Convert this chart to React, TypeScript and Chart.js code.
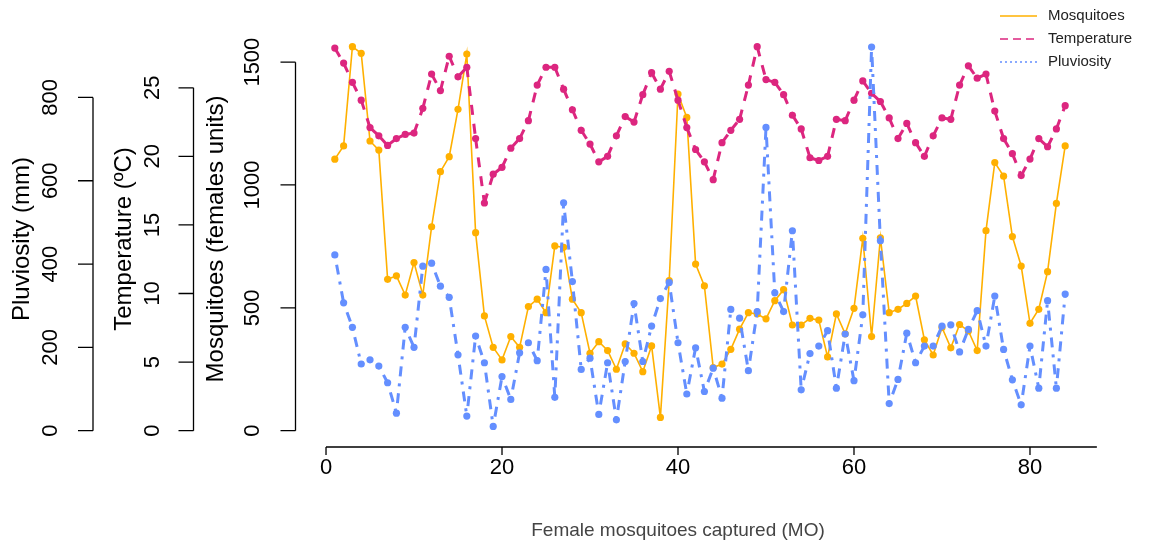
import React, { useEffect, useRef } from "react";
import { Chart, registerables } from "chart.js";

Chart.register(...registerables);

const captureIndex = [
  1, 2, 3, 4, 5, 6, 7, 8, 9, 10, 11, 12, 13, 14, 15, 16, 17, 18, 19, 20,
  21, 22, 23, 24, 25, 26, 27, 28, 29, 30, 31, 32, 33, 34, 35, 36, 37, 38, 39, 40,
  41, 42, 43, 44, 45, 46, 47, 48, 49, 50, 51, 52, 53, 54, 55, 56, 57, 58, 59, 60,
  61, 62, 63, 64, 65, 66, 67, 68, 69, 70, 71, 72, 73, 74, 75, 76, 77, 78, 79, 80,
  81, 82, 83, 84,
];

const mosquitoes = [
  1105, 1159, 1563, 1536, 1179, 1142, 616, 630, 552, 684,
  552, 830, 1054, 1115, 1308, 1533, 806, 467, 339, 288,
  383, 339, 505, 535, 480, 752, 746, 535, 480, 315,
  362, 326, 250, 353, 315, 240, 345, 54, 611, 1370,
  1275, 678, 589, 257, 271, 331, 413, 480, 475, 455,
  529, 574, 430, 430, 457, 450, 300, 475, 394, 498,
  783, 383, 785, 480, 494, 518, 548, 370, 308, 420,
  337, 432, 406, 326, 814, 1091, 1036, 790, 670, 437,
  494, 647, 925, 1159,
];

const temperature = [
  27.9, 26.8, 25.4, 24.1, 22.1, 21.5, 20.8, 21.3, 21.6, 21.7,
  23.5, 26.0, 24.8, 27.3, 25.8, 26.5, 21.3, 16.6, 18.7, 19.2,
  20.6, 21.3, 22.6, 25.2, 26.5, 26.5, 24.9, 23.4, 21.9, 20.9,
  19.6, 20.0, 21.5, 22.9, 22.5, 24.5, 26.1, 24.9, 26.2, 24.1,
  22.1, 20.5, 19.6, 18.3, 21.0, 21.9, 22.7, 25.2, 28.0, 25.6,
  25.4, 24.5, 23.0, 22.0, 19.9, 19.7, 20.0, 22.7, 22.6, 24.1,
  25.5, 24.6, 24.0, 22.8, 21.3, 22.4, 21.0, 20.0, 21.5, 22.8,
  22.7, 25.2, 26.6, 25.7, 26.0, 23.3, 21.3, 20.2, 18.6, 19.8,
  21.3, 20.7, 22.0, 23.7,
];

const pluviosity = [
  422, 307, 248, 160, 170, 155, 115, 42, 248, 200,
  395, 402, 347, 320, 182, 35, 227, 163, 10, 130,
  75, 187, 211, 168, 387, 80, 547, 358, 147, 174,
  39, 163, 26, 166, 305, 166, 251, 317, 356, 211,
  88, 199, 94, 150, 78, 291, 270, 144, 286, 728,
  331, 286, 480, 98, 185, 203, 240, 102, 232, 120,
  278, 921, 456, 65, 123, 234, 163, 203, 203, 251,
  254, 189, 243, 288, 203, 323, 195, 122, 62, 203,
  102, 312, 102, 328,
];

const xTicks = [0, 20, 40, 60, 80];
const mosqTicks = [0, 500, 1000, 1500];
const tempTicks = [0, 5, 10, 15, 20, 25];
const pluvTicks = [0, 200, 400, 600, 800];

const seriesNames = ["Mosquitoes", "Temperature", "Pluviosity"];
const xTitle = "Female mosquitoes captured (MO)";
const mosqTitle = "Mosquitoes (females units)";
const tempTitle = "Temperature (ºC)";
const pluvTitle = "Pluviosity (mm)";

const ORANGE = "#FFB000";
const MAGENTA = "#DC267F";
const BLUE = "#648FFF";
const FONT = '"Liberation Sans", Arial, Helvetica, sans-serif';

function drawYAxis(ctx: CanvasRenderingContext2D, scale: any, ticks: number[], axisX: number, labelX: number, titleX: number, title: string) {
  const y0 = scale.getPixelForValue(ticks[0]);
  const y1 = scale.getPixelForValue(ticks[ticks.length - 1]);
  ctx.beginPath();
  ctx.moveTo(axisX, y0);
  ctx.lineTo(axisX, y1);
  for (const t of ticks) {
    const y = scale.getPixelForValue(t);
    ctx.moveTo(axisX, y);
    ctx.lineTo(axisX - 15, y);
  }
  ctx.stroke();
  ctx.font = `22px ${FONT}`;
  ctx.textAlign = "center";
  ctx.textBaseline = "middle";
  for (const t of ticks) {
    const y = scale.getPixelForValue(t);
    ctx.save();
    ctx.translate(labelX, y);
    ctx.rotate(-Math.PI / 2);
    ctx.fillText(String(t), 0, 0);
    ctx.restore();
  }
  ctx.font = `24px ${FONT}`;
  ctx.save();
  ctx.translate(titleX, 239);
  ctx.rotate(-Math.PI / 2);
  ctx.fillText(title, 0, 0);
  ctx.restore();
}

const axesPlugin = {
  id: "rStyleAxes",
  afterDraw(chart: any) {
    const ctx: CanvasRenderingContext2D = chart.ctx;
    const xs = chart.scales.x;
    ctx.save();
    ctx.strokeStyle = "#000";
    ctx.fillStyle = "#000";
    ctx.lineWidth = 1.3;

    // x axis
    const axisY = 447;
    ctx.beginPath();
    ctx.moveTo(xs.getPixelForValue(xTicks[0]), axisY);
    ctx.lineTo(xs.getPixelForValue(87.6), axisY);
    for (const t of xTicks) {
      const x = xs.getPixelForValue(t);
      ctx.moveTo(x, axisY);
      ctx.lineTo(x, axisY + 8);
    }
    ctx.stroke();
    ctx.font = `22px ${FONT}`;
    ctx.textAlign = "center";
    ctx.textBaseline = "middle";
    for (const t of xTicks) {
      ctx.fillText(String(t), xs.getPixelForValue(t), 468);
    }
    ctx.fillStyle = "#444";
    ctx.font = `19px ${FONT}`;
    ctx.fillText(xTitle, (xs.getPixelForValue(xTicks[0]) + xs.getPixelForValue(xTicks[xTicks.length - 1])) / 2, 531);

    ctx.fillStyle = "#000";
    drawYAxis(ctx, chart.scales.ym, mosqTicks, 295.5, 253, 216, mosqTitle);
    drawYAxis(ctx, chart.scales.yt, tempTicks, 193.5, 152.5, 124, tempTitle);
    drawYAxis(ctx, chart.scales.yp, pluvTicks, 93, 51, 22, pluvTitle);

    // legend
    const legendItems = [
      { color: ORANGE, dash: [] as number[], y: 16 },
      { color: MAGENTA, dash: [8, 5], y: 39 },
      { color: BLUE, dash: [2, 3], y: 62 },
    ];
    ctx.font = `15px ${FONT}`;
    ctx.textAlign = "left";
    ctx.textBaseline = "middle";
    legendItems.forEach((it, i) => {
      ctx.strokeStyle = it.color;
      ctx.lineWidth = 1.6;
      ctx.setLineDash(it.dash);
      ctx.beginPath();
      ctx.moveTo(1000, it.y);
      ctx.lineTo(1037, it.y);
      ctx.stroke();
      ctx.setLineDash([]);
      ctx.fillStyle = "#222";
      ctx.fillText(seriesNames[i], 1048, it.y);
    });
    ctx.restore();
  },
};

export default function App() {
  const canvasRef = useRef<HTMLCanvasElement | null>(null);

  useEffect(() => {
    const canvas = canvasRef.current;
    if (!canvas) return;
    const toPoints = (vals: number[]) => vals.map((v, i) => ({ x: captureIndex[i], y: v }));
    const chart = new Chart(canvas, {
      type: "line",
      data: {
        datasets: [
          {
            label: seriesNames[2],
            data: toPoints(pluviosity),
            yAxisID: "yp",
            borderColor: BLUE,
            backgroundColor: BLUE,
            borderWidth: 3,
            borderDash: [3, 7, 10, 7],
            pointRadius: 3.6,
            pointBorderWidth: 0,
            pointBackgroundColor: BLUE,
            tension: 0,
            order: 0,
            segment: {
              borderDashOffset: (c: any) => (c.p0DataIndex % 2) * 0.01,
            },
          } as any,
          {
            label: seriesNames[1],
            data: toPoints(temperature),
            yAxisID: "yt",
            borderColor: MAGENTA,
            backgroundColor: MAGENTA,
            borderWidth: 3,
            borderDash: [10, 9],
            pointRadius: 3.6,
            pointBorderWidth: 0,
            pointBackgroundColor: MAGENTA,
            tension: 0,
            order: 1,
            segment: {
              borderDashOffset: (c: any) => (c.p0DataIndex % 2) * 0.01,
            },
          } as any,
          {
            label: seriesNames[0],
            data: toPoints(mosquitoes),
            yAxisID: "ym",
            borderColor: ORANGE,
            backgroundColor: ORANGE,
            borderWidth: 1.6,
            pointRadius: 3.6,
            pointBorderWidth: 0,
            pointBackgroundColor: ORANGE,
            tension: 0,
            order: 2,
          },
        ],
      },
      options: {
        responsive: false,
        maintainAspectRatio: false,
        animation: false,
        devicePixelRatio: 1,
        layout: { padding: { left: 305.6, right: 61.6, top: 31.3, bottom: 102 } },
        plugins: {
          legend: { display: false },
          tooltip: { enabled: false },
          title: { display: false },
        },
        scales: {
          x: { type: "linear", display: false, min: -2.32, max: 87.32 },
          ym: { type: "linear", display: false, min: -62.5, max: 1625.5 },
          yt: { type: "linear", display: false, min: -1.12, max: 29.12 },
          yp: { type: "linear", display: false, min: -36.9, max: 958.9 },
        },
      },
      plugins: [axesPlugin],
    });
    return () => chart.destroy();
  }, []);

  return (
    <div style={{ position: "absolute", left: 0, top: 0, width: 1156, height: 548, background: "#fff" }}>
      <canvas ref={canvasRef} width={1156} height={548} style={{ width: 1156, height: 548, display: "block" }} />
    </div>
  );
}
